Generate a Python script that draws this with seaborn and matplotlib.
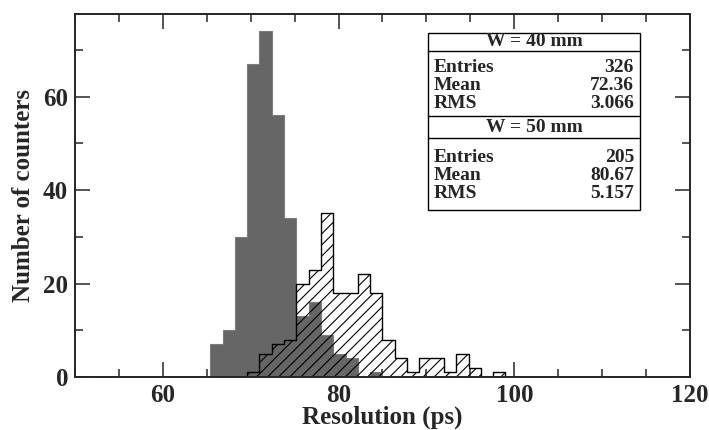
import numpy as np
import pandas as pd
import matplotlib
matplotlib.use("Agg")
import matplotlib.pyplot as plt
import seaborn as sns
from matplotlib.patches import Rectangle
from matplotlib.ticker import MultipleLocator

# histogram binning: 50 bins between 50 and 120 ps
x_min, x_max, n_bins = 50, 120, 50
y_max = 77.7

# counts per bin, W = 40 mm (first bin starts at 65.4 ps)
start_40 = 65.4
counts_40 = [7, 10, 30, 67, 74, 56, 34, 13, 16, 9, 5, 4, 0, 1]

# counts per bin, W = 50 mm (first bin starts at 69.6 ps)
start_50 = 69.6
counts_50 = [1, 5, 7, 8, 20, 23, 35, 18, 18, 22, 18, 8, 4, 1, 4, 4, 1, 5, 2, 0, 1]

# stat box contents
stat_names = ["Entries", "Mean", "RMS"]
title_40 = "W = 40 mm"
stats_40 = ["326", "72.36", "3.066"]
title_50 = "W = 50 mm"
stats_50 = ["205", "80.67", "5.157"]

FIG_W, FIG_H = 709, 430

sns.set_style("ticks")
plt.rcParams["font.family"] = ["Liberation Serif", "DejaVu Serif"]
plt.rcParams["font.weight"] = "bold"
plt.rcParams["hatch.linewidth"] = 0.8

# plain list: seaborn compares bins to "auto" when weights are used
edges = np.linspace(x_min, x_max, n_bins + 1).tolist()
width = (x_max - x_min) / n_bins


def make_df(start, counts):
    centers = start + width * (np.arange(len(counts)) + 0.5)
    return pd.DataFrame({"res": centers, "n": np.asarray(counts, dtype=float)})


df_40 = make_df(start_40, counts_40)
df_50 = make_df(start_50, counts_50)

fig = plt.figure(figsize=(FIG_W / 100, FIG_H / 100), dpi=100)
ax = fig.add_axes([75 / FIG_W, 1 - 377 / FIG_H, (690 - 75) / FIG_W, (377 - 14) / FIG_H])

sns.histplot(data=df_40, x="res", weights="n", bins=edges, element="step",
             fill=True, color="#666666", facecolor="#666666", edgecolor="#7c7c7c",
             linewidth=0.8, alpha=1, ax=ax)
sns.histplot(data=df_50, x="res", weights="n", bins=edges, element="step",
             fill=True, color="black", facecolor="none", edgecolor="black",
             linewidth=1.0, hatch="///", ax=ax)

ax.set_xlim(x_min, x_max)
ax.set_ylim(0, y_max)
ax.xaxis.set_major_locator(MultipleLocator(20))
ax.xaxis.set_minor_locator(MultipleLocator(5))
ax.yaxis.set_major_locator(MultipleLocator(20))
ax.yaxis.set_minor_locator(MultipleLocator(10))
ax.tick_params(which="both", direction="in", top=True, right=True, width=1.1,
               labelsize=18)
ax.tick_params(which="major", length=11, pad=5)
ax.tick_params(which="minor", length=5.5)
for s in ax.spines.values():
    s.set_linewidth(1.4)
    s.set_visible(True)

ax.set_xlabel("Resolution (ps)", fontsize=18, fontweight="bold", labelpad=-1)
ax.set_ylabel("Number of counters", fontsize=18, fontweight="bold", labelpad=6)


# stat box drawn in pixel coordinates of the figure
def fx(px):
    return px / FIG_W


def fy(py):
    return 1 - py / FIG_H


box_l, box_r = 428, 640
fig.patches.append(Rectangle((fx(box_l), fy(210)), fx(box_r) - fx(box_l), fy(33) - fy(210),
                             transform=fig.transFigure, facecolor="white",
                             edgecolor="black", linewidth=1.0, zorder=5))
for py in [51, 116, 138]:
    fig.add_artist(plt.Line2D([fx(box_l), fx(box_r)], [fy(py), fy(py)],
                              transform=fig.transFigure, color="black",
                              linewidth=1.0, zorder=6))

txt = dict(fontsize=14, fontweight="bold", va="center", zorder=7)
fig.text(fx((box_l + box_r) / 2), fy(42), title_40, ha="center", **txt)
fig.text(fx((box_l + box_r) / 2), fy(127), title_50, ha="center", **txt)
for rows, vals in [([68, 86, 104], stats_40), ([157, 175, 193], stats_50)]:
    for py, name, val in zip(rows, stat_names, vals):
        fig.text(fx(box_l + 6), fy(py), name, ha="left", **txt)
        fig.text(fx(box_r - 6), fy(py), val, ha="right", **txt)

fig.savefig("out.png", dpi=100)
